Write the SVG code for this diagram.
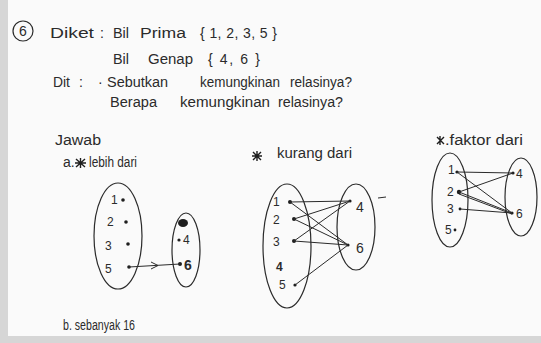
<svg xmlns="http://www.w3.org/2000/svg" width="541" height="343" viewBox="0 0 541 343">
<style>
text{font-family:"Liberation Sans","DejaVu Sans",sans-serif;fill:#2b2b2b}
.t{font-size:14px}
.n{font-size:12px}
.e{fill:none;stroke:#2b2b2b;stroke-width:1.2}
.c{stroke:#2b2b2b;stroke-width:1;fill:none}
.d{fill:#1e1e1e}
.s{fill:none;stroke:#1e1e1e;stroke-width:1.4}
</style>
<rect width="541" height="343" fill="#d6d6d6"/>
<rect x="8" y="0" width="533" height="336" fill="#fafafa"/>
<g id="header">
<circle class="e" cx="23" cy="31" r="10"/>
<text class="t" x="23" y="36" text-anchor="middle">6</text>
<text class="t" x="50" y="38" textLength="44" lengthAdjust="spacingAndGlyphs">Diket</text>
<text class="t" x="100" y="38">:</text>
<text class="t" x="113" y="38" textLength="16" lengthAdjust="spacingAndGlyphs">Bil</text>
<text class="t" x="140" y="38" textLength="46" lengthAdjust="spacingAndGlyphs">Prima</text>
<text class="t" x="200" y="38" textLength="77" lengthAdjust="spacing">{ 1, 2, 3, 5 }</text>
<text class="t" x="113" y="64" textLength="16" lengthAdjust="spacingAndGlyphs">Bil</text>
<text class="t" x="148" y="64" textLength="45" lengthAdjust="spacingAndGlyphs">Genap</text>
<text class="t" x="208" y="64" textLength="52" lengthAdjust="spacing">{ 4, 6 }</text>
<text class="t" x="53" y="87" textLength="17" lengthAdjust="spacingAndGlyphs">Dit</text>
<text class="t" x="79" y="87">:</text>
<text class="t" x="98" y="87">·</text>
<text class="t" x="107" y="87" textLength="61" lengthAdjust="spacingAndGlyphs">Sebutkan</text>
<text class="t" x="200" y="87" textLength="80" lengthAdjust="spacingAndGlyphs">kemungkinan</text>
<text class="t" x="290" y="87" textLength="62" lengthAdjust="spacingAndGlyphs">relasinya?</text>
<text class="t" x="110" y="107" textLength="47" lengthAdjust="spacingAndGlyphs">Berapa</text>
<text class="t" x="180" y="107" textLength="90" lengthAdjust="spacingAndGlyphs">kemungkinan</text>
<text class="t" x="278" y="107" textLength="65" lengthAdjust="spacingAndGlyphs">relasinya?</text>
</g>
<g id="jawab">
<text class="t" x="55" y="145" textLength="46" lengthAdjust="spacingAndGlyphs">Jawab</text>
<text class="t" x="63" y="167">a.</text>
<path class="s" d="M76,159 L85,167 M85,159 L76,167 M80.5,158 L80.5,168 M75,163 L86,163"/>
<text class="t" x="89" y="167" textLength="48" lengthAdjust="spacingAndGlyphs">lebih dari</text>
<path class="s" d="M253,152 L261,160 M261,152 L253,160 M257,151 L257,161 M252,156 L262,156"/>
<text class="t" x="277" y="158" textLength="75" lengthAdjust="spacingAndGlyphs">kurang dari</text>
<path class="s" d="M437,137 L444,144 M444,137 L437,144 M440,136 L440,145"/>
<text class="t" x="445" y="145" textLength="78" lengthAdjust="spacingAndGlyphs">.faktor dari</text>
<text class="t" x="63" y="330" textLength="72" lengthAdjust="spacingAndGlyphs">b. sebanyak 16</text>
</g>
<g id="relasi-a">
<ellipse class="e" cx="118" cy="236" rx="24" ry="53"/>
<ellipse class="e" cx="186" cy="250" rx="14" ry="37"/>
<text class="n" x="111" y="204">1</text><circle class="d" cx="123" cy="200" r="1.8"/>
<text class="n" x="107" y="226">2</text><circle class="d" cx="126" cy="222" r="1.8"/>
<text class="n" x="105" y="250">3</text><circle class="d" cx="128" cy="244" r="1.8"/>
<text class="n" x="105" y="273">5</text><circle class="d" cx="129" cy="267" r="1.8"/>
<ellipse class="d" cx="183" cy="223" rx="5" ry="4"/>
<circle class="d" cx="179" cy="240" r="1.6"/><text class="n" x="183" y="244">4</text>
<circle class="d" cx="180" cy="264" r="2"/><text class="t" x="184" y="270" font-weight="bold">6</text>
</g>
<g id="relasi-b">
<ellipse class="e" cx="287" cy="246" rx="24" ry="62"/>
<ellipse class="e" cx="356" cy="227" rx="19" ry="43"/>
<text class="n" x="273" y="206">1</text><circle class="d" cx="290" cy="202" r="2"/>
<text class="n" x="273" y="224">2</text><circle class="d" cx="294" cy="219" r="2"/>
<text class="n" x="273" y="246">3</text><circle class="d" cx="294" cy="241" r="2"/>
<text class="n" x="276" y="271" font-weight="bold">4</text>
<text class="n" x="279" y="289">5</text><circle class="d" cx="295" cy="285" r="1.6"/>
<circle class="d" cx="350" cy="201" r="1.6"/><text class="t" x="356" y="212">4</text>
<circle class="d" cx="348" cy="245" r="1.6"/><text class="t" x="356" y="253">6</text>
<path class="c" d="M378,198 L386,197"/>
</g>
<g id="relasi-c">
<ellipse class="e" cx="450" cy="200" rx="18" ry="47"/>
<ellipse class="e" cx="521" cy="197" rx="16" ry="39"/>
<text class="n" x="448" y="174">1</text><circle class="d" cx="457" cy="172" r="1.6"/>
<text class="n" x="447" y="196">2</text><circle class="d" cx="459" cy="192" r="2.2"/>
<text class="n" x="447" y="213">3</text><circle class="d" cx="460" cy="209" r="1.4"/>
<text class="n" x="445" y="234">5</text><circle class="d" cx="455" cy="230" r="1.4"/>
<circle class="d" cx="513" cy="173" r="1.6"/><text class="n" x="516" y="178">4</text>
<circle class="d" cx="512" cy="213" r="1.6"/><text class="n" x="516" y="218">6</text>
</g>
<g id="connectors">
<path class="c" d="M129,267 L180,264"/>
<path class="c" d="M151,262 L158,265.5 L151,269"/>
<path class="c" d="M290,202 L350,201 M290,202 L348,245 M294,219 L350,201 M294,219 L348,245 M294,241 L350,201 M294,241 L348,245 M295,285 L348,245"/>
<path class="c" d="M457,172 L513,173 M457,172 L512,213 M459,192 L513,173 M459,192 L512,213 M459,194 L512,214 M460,209 L512,213"/>
</g>
</svg>
